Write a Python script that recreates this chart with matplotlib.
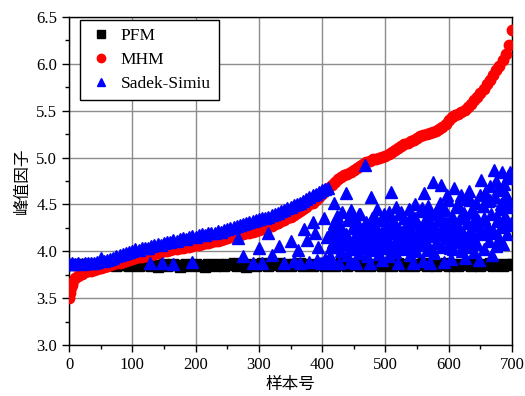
import matplotlib
matplotlib.use("Agg")
import matplotlib.pyplot as plt
import numpy as np

plt.rcParams['font.family'] = ['Liberation Serif', 'DejaVu Serif']
plt.rcParams['font.size'] = 12

# sample numbers for the MHM / PFM series
mhm_x = np.r_[0:5, 5:701:5]
mhm = [3.50, 3.55, 3.59, 3.62, 3.64,
       3.66, 3.71, 3.74, 3.76, 3.775, 3.785, 3.79, 3.80, 3.81, 3.82,
       3.83, 3.84, 3.85, 3.86, 3.87, 3.88, 3.89, 3.90, 3.91, 3.92,
       3.93, 3.935, 3.94, 3.95, 3.955, 3.96, 3.97, 3.98, 3.99, 4.00,
       4.005, 4.01, 4.02, 4.025, 4.03, 4.04, 4.045, 4.05, 4.06, 4.065,
       4.07, 4.08, 4.085, 4.09, 4.10, 4.11, 4.115, 4.12, 4.13, 4.14,
       4.15, 4.155, 4.165, 4.17, 4.18, 4.19, 4.20, 4.21, 4.22, 4.23,
       4.24, 4.25, 4.26, 4.27, 4.29, 4.30, 4.32, 4.33, 4.35, 4.37,
       4.39, 4.41, 4.43, 4.45, 4.47, 4.50, 4.52, 4.55, 4.58, 4.61,
       4.65, 4.68, 4.71, 4.74, 4.77, 4.79, 4.81, 4.83, 4.85, 4.87,
       4.89, 4.91, 4.93, 4.95, 4.96, 4.98, 4.99, 5.00, 5.01, 5.02,
       5.04, 5.06, 5.08, 5.10, 5.12, 5.14, 5.16, 5.18, 5.19, 5.21,
       5.23, 5.24, 5.25, 5.26, 5.27, 5.28, 5.30, 5.33, 5.36, 5.40,
       5.43, 5.45, 5.47, 5.49, 5.51, 5.54, 5.57, 5.61, 5.65, 5.69,
       5.73, 5.78, 5.83, 5.88, 5.93, 5.98, 6.04, 6.10, 6.20, 6.36]

pfm_x = np.arange(0, 701, 5)
pfm = [3.86, 3.85, 3.86, 3.85, 3.86, 3.85, 3.86, 3.86, 3.85, 3.86,
       3.85, 3.84, 3.85, 3.86, 3.85, 3.84, 3.86, 3.85, 3.85, 3.84,
       3.85, 3.86, 3.84, 3.85, 3.85, 3.86, 3.84, 3.85, 3.83, 3.85,
       3.86, 3.84, 3.85, 3.86, 3.85, 3.83, 3.85, 3.86, 3.84, 3.85,
       3.86, 3.84, 3.85, 3.83, 3.86, 3.85, 3.84, 3.86, 3.85, 3.84,
       3.86, 3.85, 3.87, 3.84, 3.86, 3.85, 3.83, 3.86, 3.85, 3.84,
       3.86, 3.87, 3.85, 3.84, 3.86, 3.85, 3.87, 3.84, 3.85, 3.86,
       3.84, 3.86, 3.85, 3.87, 3.84, 3.86, 3.85, 3.84, 3.86, 3.85,
       3.87, 3.84, 3.86, 3.85, 3.84, 3.86, 3.87, 3.85, 3.84, 3.86,
       3.85, 3.87, 3.84, 3.86, 3.85, 3.84, 3.86, 3.85, 3.87, 3.84,
       3.86, 3.85, 3.84, 3.86, 3.87, 3.85, 3.84, 3.86, 3.85, 3.84,
       3.86, 3.85, 3.87, 3.84, 3.86, 3.85, 3.84, 3.86, 3.85, 3.87,
       3.84, 3.86, 3.85, 3.84, 3.86, 3.85, 3.87, 3.84, 3.86, 3.85,
       3.84, 3.86, 3.85, 3.87, 3.84, 3.86, 3.85, 3.84, 3.86, 3.85, 3.86]

# Sadek-Simiu: main band for samples 0-410
ss_band_x = np.arange(0, 411, 5)
ss_band = [3.86, 3.87, 3.86, 3.87, 3.86, 3.87, 3.87, 3.88, 3.88, 3.89,
           3.93, 3.90, 3.91, 3.92, 3.93, 3.95, 3.96, 3.97, 3.98, 3.99,
           4.00, 4.02, 4.01, 4.03, 4.04, 4.03, 4.06, 4.07, 4.08, 4.07,
           4.09, 4.10, 4.10, 4.12, 4.11, 4.13, 4.14, 4.13, 4.15, 4.16,
           4.15, 4.17, 4.18, 4.17, 4.19, 4.20, 4.20, 4.22, 4.21, 4.23,
           4.24, 4.25, 4.26, 4.27, 4.28, 4.29, 4.30, 4.31, 4.32, 4.33,
           4.34, 4.35, 4.36, 4.37, 4.39, 4.40, 4.41, 4.43, 4.44, 4.46,
           4.47, 4.49, 4.50, 4.52, 4.54, 4.56, 4.58, 4.60, 4.61, 4.63,
           4.65, 4.66, 4.67]

# Sadek-Simiu: samples below the band before 410
ss_low_x = [128, 147, 165, 195, 267, 275, 290, 301, 305, 315, 320, 332, 340,
            351, 355, 362, 365, 372, 376, 380, 386, 389, 392, 394, 398, 403,
            405, 408]
ss_low = [3.88, 3.87, 3.86, 3.89, 4.14, 3.95, 3.88, 4.03, 3.87, 4.20, 3.96,
          4.06, 3.88, 4.11, 3.90, 4.01, 3.87, 4.24, 4.12, 3.89, 4.31, 4.20,
          3.91, 4.05, 3.88, 4.35, 3.92, 4.15]

# Sadek-Simiu: scattered samples after 410
ss_tail_x = np.arange(412, 700, 1.5)
ss_tail = [3.95, 4.22, 3.88, 4.10, 4.52, 4.30, 4.12, 4.05, 4.38, 4.15,
           3.87, 4.26, 4.00, 4.42, 4.20, 4.18, 4.08, 4.62, 3.96, 4.33,
           4.12, 3.89, 4.44, 4.02, 4.25, 4.10, 4.35, 4.16, 3.87, 4.06,
           4.29, 3.98, 4.40, 4.11, 4.24, 4.21, 4.03, 4.92, 4.31, 3.95,
           4.19, 4.07, 3.88, 4.58, 4.36, 4.14, 4.13, 4.27, 4.01, 4.22,
           4.45, 4.22, 3.97, 4.09, 4.33, 3.91, 4.17, 4.40, 4.04, 4.16,
           4.26, 4.12, 3.95, 4.38, 4.05, 4.63, 4.28, 4.20, 4.31, 3.99,
           4.47, 4.14, 3.87, 4.24, 4.08, 4.42, 4.19, 4.18, 4.35, 4.02,
           4.28, 4.09, 4.15, 4.45, 4.06, 3.96, 4.37, 4.21, 3.88, 4.11,
           4.50, 4.00, 4.30, 4.12, 4.19, 4.43, 4.07, 4.25, 3.90, 4.62,
           4.13, 4.36, 4.26, 4.22, 4.48, 4.03, 3.88, 4.29, 4.16, 4.74,
           3.98, 4.40, 4.09, 4.17, 4.33, 4.20, 4.52, 4.71, 4.05, 4.26,
           3.89, 4.44, 4.14, 4.31, 4.23, 4.55, 4.08, 4.23, 3.92, 4.38,
           4.02, 4.68, 4.17, 4.47, 4.13, 4.27, 4.10, 4.35, 4.60, 4.00,
           4.20, 4.41, 3.93, 4.12, 4.56, 4.30, 4.05, 4.64, 4.18, 4.24,
           4.45, 4.15, 3.99, 4.36, 4.52, 4.08, 4.28, 3.91, 4.60, 4.76,
           4.18, 4.48, 4.02, 4.35, 4.62, 4.21, 4.27, 4.54, 4.11, 4.70,
           4.40, 3.96, 4.22, 4.87, 4.58, 4.06, 4.32, 4.66, 4.14, 4.45,
           4.26, 4.85, 4.52, 4.08, 4.72, 4.38, 4.60, 4.18, 4.80, 4.47,
           4.85, 4.30]
ss_tail2_x = np.arange(414, 700, 4)
ss_tail2 = [4.05, 4.20, 4.32, 4.12, 4.25, 4.08, 4.18, 4.36,
            4.02, 4.28, 4.14, 4.40, 4.22, 4.06, 4.30, 4.16,
            4.26, 4.38, 4.04, 4.12, 4.21, 4.33, 4.07, 4.42,
            4.19, 4.27, 4.10, 4.40, 4.03, 4.23, 4.15, 4.32,
            4.06, 4.36, 4.20, 4.12, 4.46, 4.28, 4.01, 4.40,
            4.17, 4.25, 4.09, 4.44, 4.33, 4.18, 4.60, 4.04,
            4.29, 4.13, 4.50, 4.22, 4.07, 4.36, 4.15, 4.55,
            4.42, 4.10, 4.33, 4.21, 4.48, 4.62, 4.26, 4.55,
            4.19, 4.75, 4.34, 4.50, 4.65, 4.28, 4.56, 4.78]

ss_x = np.concatenate([ss_band_x, ss_low_x, ss_tail_x, ss_tail2_x])
ss = np.concatenate([ss_band, ss_low, ss_tail, ss_tail2])

fig = plt.figure(figsize=(5.25, 3.96), dpi=100)
ax = fig.add_axes([69/525, 51/396, 443/525, 328/396])

ax.plot(pfm_x, pfm, 's', color='black', ms=6.5, label='PFM', zorder=3)
ax.plot(mhm_x, mhm, 'o', color='red', ms=7.5, label='MHM', zorder=4)
ax.plot(ss_x, ss, '^', color='blue', ms=8, label='Sadek-Simiu', zorder=5)

ax.set_xlim(0, 700)
ax.set_ylim(3.0, 6.5)
ax.set_xticks(np.arange(0, 701, 100))
ax.set_xticks(np.arange(50, 700, 100), minor=True)
ax.set_yticks(np.arange(3.0, 6.51, 0.5))
ax.set_yticks(np.arange(3.25, 6.5, 0.5), minor=True)
ax.yaxis.set_major_formatter(matplotlib.ticker.FormatStrFormatter('%.1f'))
ax.tick_params(which='major', direction='out', length=5, width=1, labelsize=12)
ax.tick_params(which='minor', direction='out', length=3, width=1)
ax.tick_params(top=False, right=False)
ax.grid(True, which='major', color='#8c8c8c', linewidth=1)
ax.set_axisbelow(True)
for s in ax.spines.values():
    s.set_linewidth(1)

cjk = ['Noto Sans CJK SC', 'DejaVu Sans']
ax.set_xlabel('样本号', family=cjk, fontsize=12, labelpad=2)
ax.set_ylabel('峰值因子', family=cjk, fontsize=12, labelpad=4)

leg = ax.legend(loc='upper left', bbox_to_anchor=(0.025, 0.991), borderaxespad=0,
                fancybox=False, framealpha=1, edgecolor='black', fontsize=12.5,
                handletextpad=0.4, borderpad=0.45, labelspacing=0.45,
                handlelength=1.5, markerscale=0.8)
leg.get_frame().set_linewidth(1)

fig.savefig('out.png', dpi=100)
